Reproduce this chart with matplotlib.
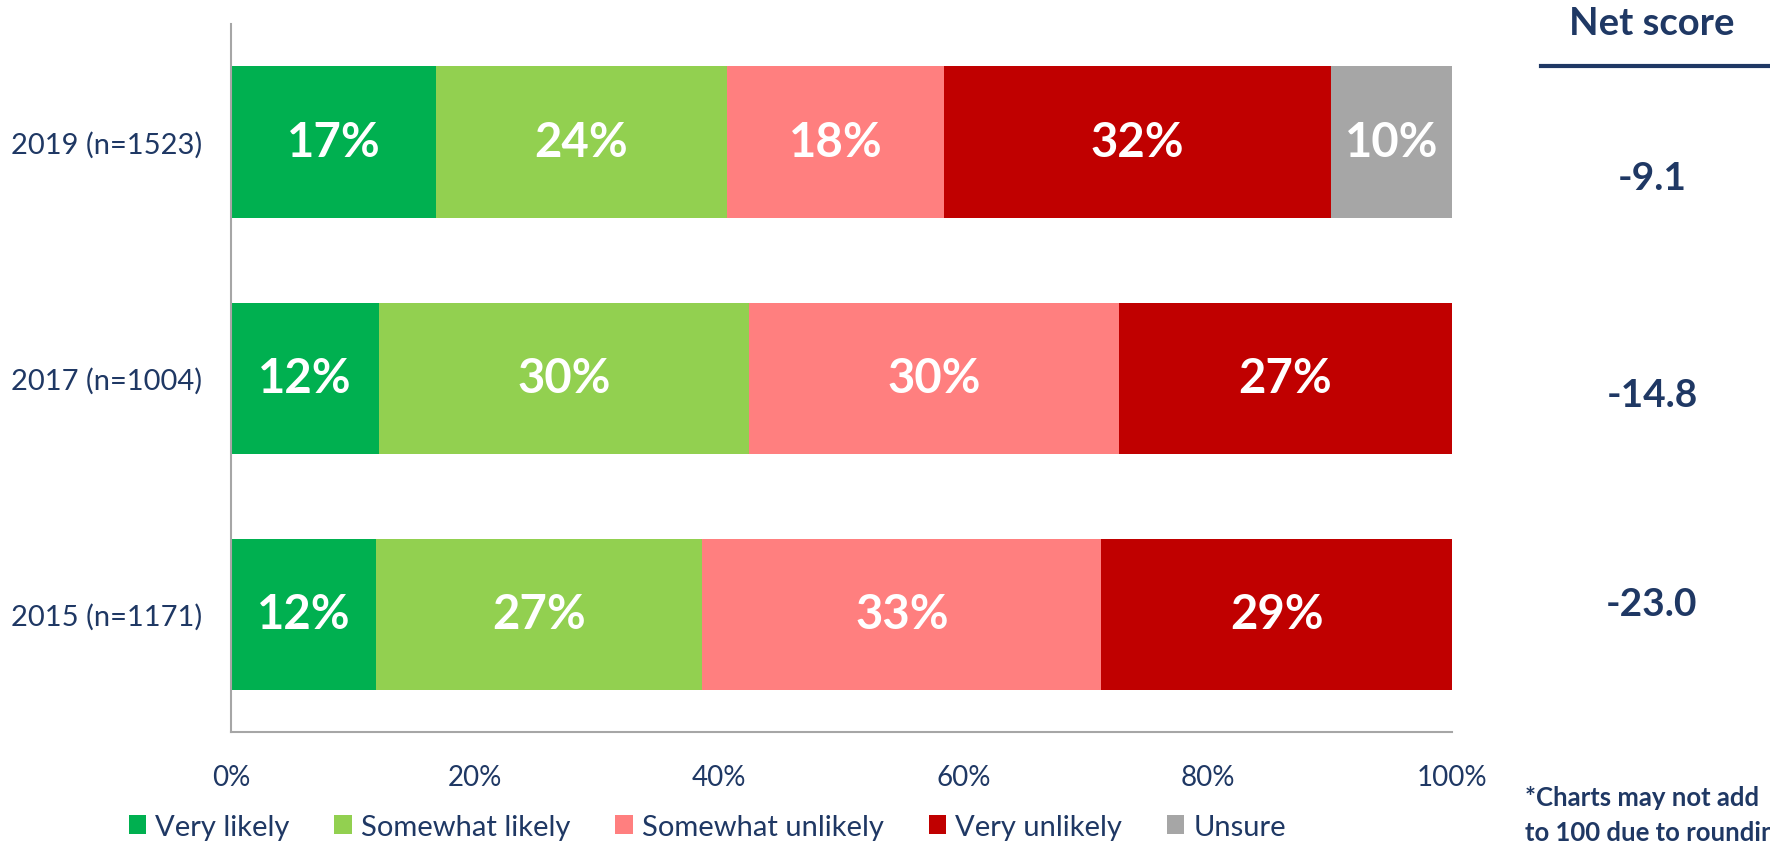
import matplotlib
matplotlib.use('Agg')
import matplotlib.pyplot as plt
import numpy as np
from matplotlib import rcParams
from matplotlib.patches import Patch
from matplotlib.lines import Line2D

rcParams.update({
    'font.family': 'sans-serif',
    'font.sans-serif': ['Lato', 'DejaVu Sans'],
})

navy = '#1f3864'

years = ['2019 (n=1523)', '2017 (n=1004)', '2015 (n=1171)']
categories = ['Very likely', 'Somewhat likely', 'Somewhat unlikely', 'Very unlikely', 'Unsure']
colors = ['#00b050', '#92d050', '#ff7f7f', '#c00000', '#a6a6a6']

# percentages per survey year, one list per answer
very_likely = [17, 12, 12]
somewhat_likely = [24, 30, 27]
somewhat_unlikely = [18, 30, 33]
very_unlikely = [32, 27, 29]
unsure = [10, 0, 0]

net_scores = ['-9.1', '-14.8', '-23.0']

series = np.array([very_likely, somewhat_likely, somewhat_unlikely, very_unlikely, unsure], dtype=float)
# rows don't always add to 100 (rounding), scale each bar to full width
totals = series.sum(axis=0)
shares = series / totals * 100

fig = plt.figure(figsize=(17.7, 8.45), dpi=100)
ax = fig.add_axes([0.1305, 0.1325, 0.6898, 0.8379])

ypos = np.arange(len(years))
left = np.zeros(len(years))
for i, cat in enumerate(categories):
    ax.barh(ypos, shares[i], left=left, height=0.64, color=colors[i], linewidth=0)
    for j in range(len(years)):
        if series[i, j] > 0:
            ax.text(left[j] + shares[i, j] / 2, ypos[j], '%d%%' % series[i, j],
                    ha='center', va='center', color='white',
                    fontsize=34, fontweight='bold')
    left += shares[i]

ax.set_xlim(0, 100)
ax.set_ylim(len(years) - 0.5, -0.5)
ax.set_yticks(ypos)
ax.set_yticklabels(years)
ax.set_xticks(np.arange(0, 101, 20))
ax.set_xticklabels(['%d%%' % v for v in range(0, 101, 20)])
ax.tick_params(axis='both', length=0, labelsize=20, labelcolor=navy)
ax.tick_params(axis='x', pad=23)
ax.tick_params(axis='y', pad=21, labelsize=21)

for side in ['top', 'right']:
    ax.spines[side].set_visible(False)
for side in ['left', 'bottom']:
    ax.spines[side].set_color('#a6a6a6')
    ax.spines[side].set_linewidth(1.5)

# net score column on the right
fig.text(1652 / 1770, 1 - 24 / 845, 'Net score', ha='center', va='center',
         fontsize=27.5, fontweight='bold', color=navy)
fig.add_artist(Line2D([1541 / 1770, 1.0], [1 - 67 / 845, 1 - 67 / 845],
                      color=navy, linewidth=3, transform=fig.transFigure))
for score, ypix in zip(net_scores, [179, 396, 604]):
    fig.text(1652 / 1770, 1 - ypix / 845, score, ha='center', va='center',
             fontsize=28, fontweight='bold', color=navy)

# footnote runs off the right edge of the slide
fig.text(1525 / 1770, 1 - 798 / 845, '*Charts may not add', ha='left', va='center',
         fontsize=18.5, fontweight='bold', color=navy)
fig.text(1525 / 1770, 1 - 833 / 845, 'to 100 due to rounding', ha='left', va='center',
         fontsize=18.5, fontweight='bold', color=navy)

handles = [Patch(facecolor=c, edgecolor='none') for c in colors]
leg = fig.legend(handles, categories, loc='center left', ncol=5,
                 bbox_to_anchor=(114 / 1770, 1 - 828 / 845), frameon=False,
                 fontsize=21, handlelength=0.6, handleheight=0.6,
                 handletextpad=0.3, columnspacing=1.55, borderpad=0)
for t in leg.get_texts():
    t.set_color(navy)

plt.savefig('out.png', dpi=100)
plt.close('all')
